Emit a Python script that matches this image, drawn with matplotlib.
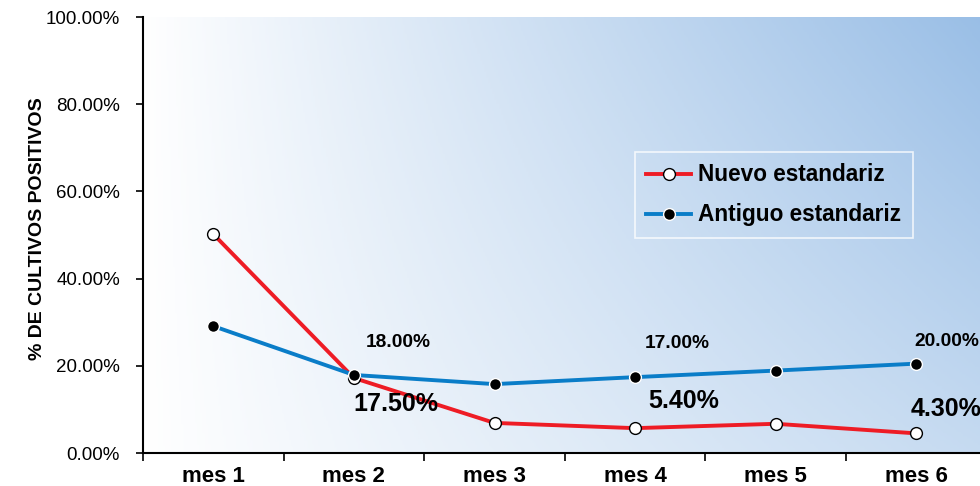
import matplotlib
matplotlib.use("Agg")
import matplotlib.pyplot as plt
import numpy as np
from matplotlib.colors import LinearSegmentedColormap

plt.rcParams['font.family'] = ['Liberation Sans', 'DejaVu Sans']

meses = ['mes 1', 'mes 2', 'mes 3', 'mes 4', 'mes 5', 'mes 6']
nuevo = [0.502, 0.172, 0.069, 0.057, 0.067, 0.045]
antiguo = [0.291, 0.179, 0.158, 0.174, 0.189, 0.205]
y_ticks = [0.0, 0.2, 0.4, 0.6, 0.8, 1.0]

# etiquetas de datos (indice, texto)
etiq_nuevo = [(1, '17.50%'), (3, '5.40%'), (5, '4.30%')]
etiq_antiguo = [(1, '18.00%'), (3, '17.00%'), (5, '20.00%')]

fig = plt.figure(figsize=(9.8, 4.86), dpi=100)
ax = fig.add_axes([143 / 980, 33 / 486, 843.6 / 980, 436 / 486])

x = np.arange(len(meses))
ax.set_xlim(-0.5, len(meses) - 0.5)
ax.set_ylim(0, 1)

# fondo degradado (blanco abajo-izquierda -> azul arriba-derecha)
gx, gy = np.meshgrid(np.linspace(0, 1, 400), np.linspace(0, 1, 200))
t = np.clip(gx * (0.55 + 0.45 * gy), 0, 1) ** 0.95
cmap = LinearSegmentedColormap.from_list('fondo', ['#ffffff', '#99bee6'])
ax.imshow(t, cmap=cmap, extent=(-0.5, len(meses) - 0.5, 0, 1), origin='lower',
          aspect='auto', zorder=0, vmin=0, vmax=1)

ax.plot(x, nuevo, color='#ee1c25', lw=2.8, marker='o', ms=8.5,
        mfc='white', mec='black', mew=1.0, label='Nuevo estandariz', zorder=3)
ax.plot(x, antiguo, color='#0a7dc8', lw=2.8, marker='o', ms=8.5,
        mfc='black', mec='white', mew=1.0, label='Antiguo estandariz', zorder=4)

off_antiguo = {1: (44, 32), 3: (42, 34), 5: (31, 22)}
off_nuevo = {1: (42, -26), 3: (49, 27), 5: (30, 24)}
for i, s in etiq_antiguo:
    ax.annotate(s, (x[i], antiguo[i]), xytext=off_antiguo[i], textcoords='offset pixels',
                ha='center', va='center', fontsize=13.8, fontweight='bold')
for i, s in etiq_nuevo:
    ax.annotate(s, (x[i], nuevo[i]), xytext=off_nuevo[i], textcoords='offset pixels',
                ha='center', va='center', fontsize=18, fontweight='bold')

ax.spines['top'].set_visible(False)
ax.spines['right'].set_visible(False)
ax.spines['left'].set_linewidth(1.5)
ax.spines['bottom'].set_linewidth(1.5)

ax.set_yticks(y_ticks)
ax.set_yticklabels(['%.2f%%' % (v * 100) for v in y_ticks], fontsize=13.5)
ax.tick_params(axis='y', length=5, width=1.2, pad=11.5)

ax.set_xticks(x)
ax.set_xticklabels(meses, fontsize=16, fontweight='bold')
ax.set_xticks(np.arange(-0.5, len(meses)), minor=True)
ax.tick_params(axis='x', which='major', length=0, pad=9)
ax.tick_params(axis='x', which='minor', length=6, width=1.2)

fig.text(38 / 980, 1 - 229 / 486, '% DE CULTIVOS POSITIVOS', rotation=90,
         ha='center', va='center', fontsize=14, fontweight='bold')

leg = ax.legend(loc='upper left', bbox_to_anchor=(0.583, 0.69), frameon=True,
                fancybox=False, facecolor='none', edgecolor='white',
                prop={'weight': 'bold', 'size': 16.3}, handlelength=2.0,
                labelspacing=0.75, borderpad=0.5, handletextpad=0.3,
                borderaxespad=0)
leg.get_frame().set_linewidth(1.2)

fig.savefig('out.png', dpi=100)
